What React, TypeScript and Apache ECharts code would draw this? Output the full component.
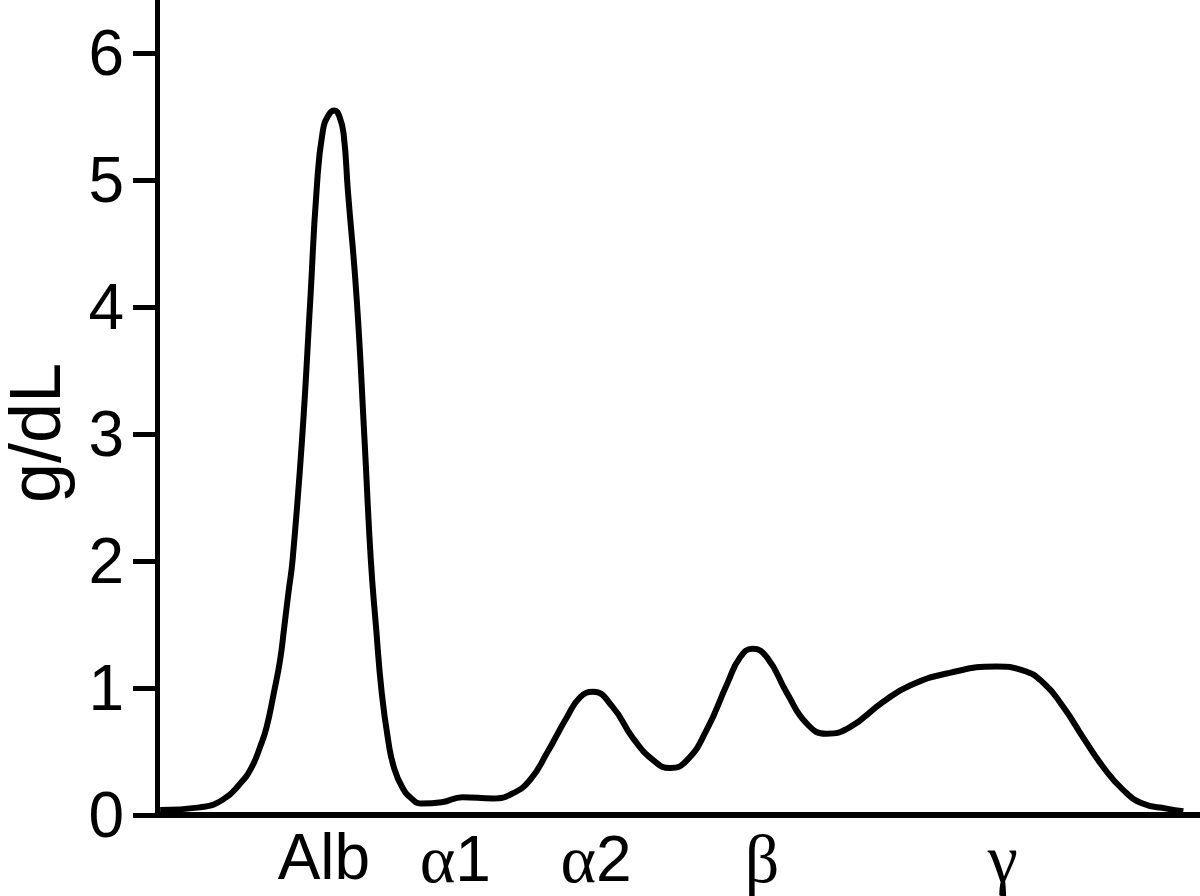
import React, { useEffect, useRef } from 'react';
import * as echarts from 'echarts';

// Migration distance (relative units, 0–100) and protein concentration (g/dL)
const migration = [
  0.3, 4.1, 6.3, 8.0, 9.1, 9.9, 10.5, 11.2, 11.8, 12.2, 12.6, 13.0, 13.9, 14.7,
  15.3, 15.9, 16.5, 17.0, 17.5, 17.9, 18.3, 19.15, 19.9, 20.5, 21.0, 21.55, 22.2,
  22.7, 23.5, 24.4, 25.4, 27.3, 29.3, 32.2, 34.1, 35.8, 37.4, 39.3, 40.6, 41.8,
  43.7, 45.6, 47.6, 49.2, 50.8, 52.7, 54.7, 55.9, 57.1, 58.5, 60.4, 62.3, 64.2,
  66.4, 69.6, 72.2, 76.0, 80.5, 83.0, 85.0, 86.9, 88.8, 90.7, 92.6, 94.5, 96.8,
  98.4,
];
const concentration = [
  0.04, 0.06, 0.12, 0.25, 0.38, 0.54, 0.69, 0.96, 1.22, 1.48, 1.75, 2.01, 2.95, 4.06,
  4.92, 5.39, 5.52, 5.55, 5.5, 5.36, 4.92, 4.06, 2.95, 2.01, 1.48, 0.96, 0.57,
  0.38, 0.22, 0.13, 0.09, 0.1, 0.14, 0.13, 0.17, 0.28, 0.49, 0.77, 0.93, 0.97,
  0.85, 0.61, 0.43, 0.37, 0.43, 0.67, 1.04, 1.24, 1.31, 1.24, 0.96, 0.72, 0.64,
  0.69, 0.89, 1.02, 1.12, 1.17, 1.14, 1.04, 0.85, 0.61, 0.38, 0.2, 0.09, 0.05,
  0.03,
];

const fractionLabels = ['Alb', 'α1', 'α2', 'β', 'γ'];
const fractionPositions = [16.0, 28.6, 42.1, 58.0, 81.1];
const yTicks = [0, 1, 2, 3, 4, 5, 6];
const yAxisTitle = 'g/dL';

const SANS = '"Liberation Sans", Arial, sans-serif';
const SERIF = '"Liberation Serif", "Times New Roman", serif';

function richLabel(text: string): string {
  let out = '';
  for (const ch of text) {
    const greek = /[\u0370-\u03ff]/.test(ch);
    out += greek ? `{g|${ch}}` : `{s|${ch}}`;
  }
  return out;
}

export default function App() {
  const ref = useRef<HTMLDivElement>(null);

  useEffect(() => {
    if (!ref.current) return;
    const chart = echarts.init(ref.current, null, { renderer: 'svg' });
    const data = migration.map((m, i) => [m, concentration[i]]);

    chart.setOption({
      animation: false,
      backgroundColor: '#ffffff',
      grid: { left: 157, right: 0, top: 0, bottom: 81, containLabel: false },
      xAxis: {
        type: 'value',
        min: 0,
        max: 100,
        axisLine: { show: true, lineStyle: { color: '#000', width: 6 } },
        axisTick: { show: false },
        splitLine: { show: false },
        axisLabel: {
          customValues: fractionPositions,
          margin: 10,
          formatter: (v: number) => {
            const idx = fractionPositions.findIndex((p) => Math.abs(p - v) < 1e-6);
            return idx >= 0 ? richLabel(fractionLabels[idx]) : '';
          },
          rich: {
            s: { fontFamily: SANS, fontSize: 64, color: '#000' },
            g: { fontFamily: SERIF, fontSize: 68, color: '#000' },
          },
        },
      },
      yAxis: {
        type: 'value',
        min: 0,
        max: 6.42,
        axisLine: { show: true, lineStyle: { color: '#000', width: 5 } },
        axisTick: {
          show: true,
          customValues: yTicks,
          length: 24,
          inside: false,
          lineStyle: { color: '#000', width: 5 },
        },
        splitLine: { show: false },
        axisLabel: {
          customValues: yTicks,
          margin: 33,
          fontFamily: SANS,
          fontSize: 64,
          color: '#000',
        },
      },
      graphic: [
        {
          type: 'text',
          x: 35,
          y: 433,
          rotation: Math.PI / 2,
          style: {
            text: yAxisTitle,
            fontFamily: SANS,
            fontSize: 72,
            fill: '#000',
            align: 'center',
            verticalAlign: 'middle',
          },
        },
      ],
      series: [
        {
          type: 'line',
          data,
          showSymbol: false,
          smooth: 0.5,
          clip: false,
          lineStyle: { color: '#000', width: 6 },
        },
      ],
    });

    return () => chart.dispose();
  }, []);

  return (
    <div
      ref={ref}
      style={{ position: 'fixed', left: 0, top: 0, width: 1200, height: 896, background: '#fff' }}
    />
  );
}
